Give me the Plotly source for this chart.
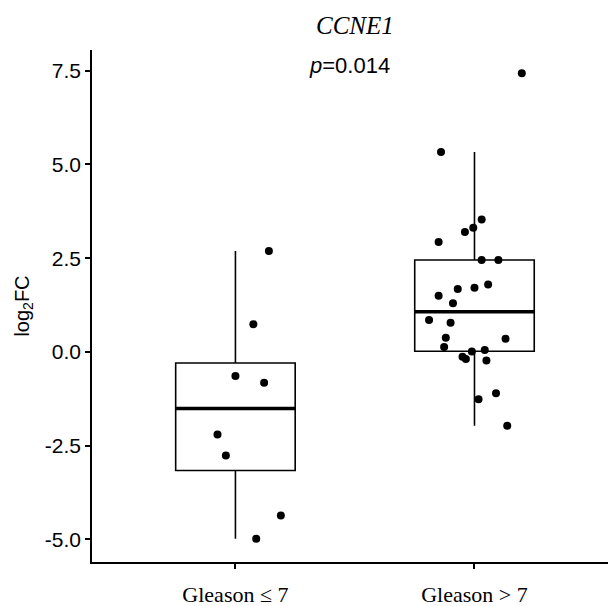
import numpy as np
import plotly.graph_objects as go

# ---- data ----
groups = ["Gleason \u2264 7", "Gleason > 7"]
group_pos = [1, 2]

low_vals = [2.69, 0.74, -0.64, -0.82, -2.20, -2.76, -4.36, -4.98]
low_jitter = [0.14, 0.075, 0.0, 0.12, -0.075, -0.04, 0.19, 0.087]

high_vals = [7.43, 5.33, 3.53, 3.31, 3.20, 2.93, 2.45, 2.45, 1.68, 1.71, 1.80,
             1.50, 1.30, 0.85, 0.78, 0.35, 0.38, 0.13, 0.01, 0.05, -0.13,
             -0.19, -0.23, -1.10, -1.26, -1.97]
high_jitter = [0.198, -0.14, 0.03, -0.005, -0.04, -0.15, 0.03, 0.10, -0.07,
               0.0, 0.057, -0.15, -0.09, -0.19, -0.10, 0.13, -0.12, -0.127,
               -0.011, 0.043, -0.05, -0.036, 0.05, 0.09, 0.017, 0.137]

y_ticks = [-5.0, -2.5, 0.0, 2.5, 5.0, 7.5]
y_tick_labels = ["-5.0", "-2.5", "0.0", "2.5", "5.0", "7.5"]
gene = "CCNE1"
p_text = "<i>p</i>=0.014"

series = [low_vals, high_vals]
jitters = [low_jitter, high_jitter]

# ---- box statistics (ggplot style) ----
q1s, meds, q3s, lows, highs = [], [], [], [], []
for v in series:
    a = np.array(v)
    q1, med, q3 = np.percentile(a, [25, 50, 75])
    iqr = q3 - q1
    lo = a[a >= q1 - 1.5 * iqr].min()
    hi = a[a <= q3 + 1.5 * iqr].max()
    q1s.append(q1); meds.append(med); q3s.append(q3); lows.append(lo); highs.append(hi)

fig = go.Figure()
fig.add_trace(go.Box(
    x=group_pos, q1=q1s, median=meds, q3=q3s, lowerfence=lows, upperfence=highs,
    width=0.5, whiskerwidth=0, fillcolor="white",
    line=dict(color="black", width=1.6), boxpoints=False, showlegend=False,
))
# thick median lines
for g, m in zip(group_pos, meds):
    fig.add_trace(go.Scatter(x=[g - 0.25, g + 0.25], y=[m, m], mode="lines",
                             line=dict(color="black", width=3.5), showlegend=False))
# jittered points
for g, v, j in zip(group_pos, series, jitters):
    fig.add_trace(go.Scatter(x=[g + d for d in j], y=v, mode="markers",
                             marker=dict(color="black", size=8), showlegend=False))

allv = np.array(low_vals + high_vals)
span = allv.max() - allv.min()
yr = [allv.min() - 0.05 * span, allv.max() + 0.05 * span]

# page body has an 8px margin, so the figure is 8px smaller and starts at (8,8)
fig.update_layout(
    width=608, height=598,
    margin=dict(l=84, r=0, t=42, b=44),
    plot_bgcolor="white", paper_bgcolor="white",
    font=dict(family="Liberation Sans, Arial", color="black"),
    xaxis=dict(range=[0.4, 2.592], tickvals=group_pos, ticktext=groups,
               showline=True, linecolor="black", linewidth=1.6,
               ticks="outside", ticklen=5, tickwidth=1.6, tickcolor="black",
               showgrid=False, zeroline=False, automargin=False,
               tickfont=dict(family="Liberation Serif, Times New Roman", size=22, color="black"),
               ticklabelstandoff=7),
    yaxis=dict(range=yr, tickvals=y_ticks, ticktext=y_tick_labels,
               showline=True, linecolor="black", linewidth=1.6,
               ticks="outside", ticklen=5, tickwidth=1.6, tickcolor="black",
               showgrid=False, zeroline=False, automargin=False,
               tickfont=dict(size=21, color="black"),
               title=dict(text="log<sub>2</sub>FC", font=dict(size=20, color="black"),
                          standoff=10)),
    annotations=[
        dict(text="<i>" + gene + "</i>", xref="paper", yref="paper", x=0.501, y=1 + 25 / 512,
             xanchor="center", yanchor="middle", showarrow=False,
             font=dict(family="Liberation Serif, Times New Roman", size=25, color="black")),
        dict(text=p_text, xref="paper", yref="paper", x=0.492, y=1 - 15 / 512,
             xanchor="center", yanchor="middle", showarrow=False,
             font=dict(size=22, color="black")),
    ],
)

fig.write_html("out.html")
